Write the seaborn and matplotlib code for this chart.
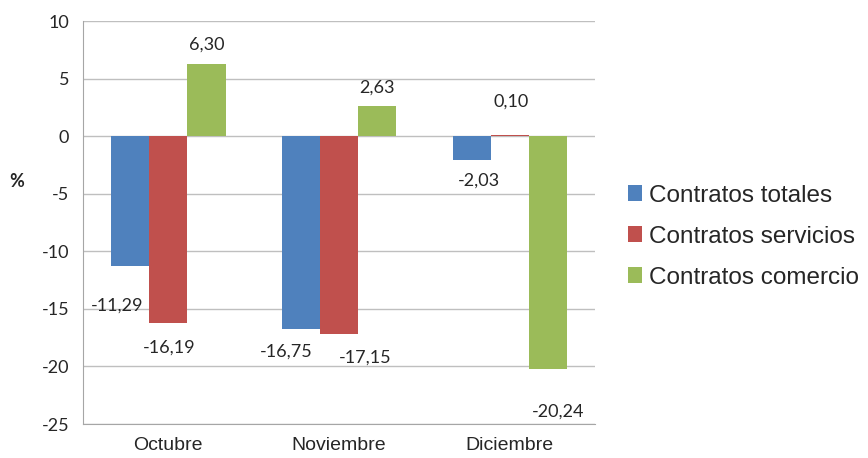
import numpy as np
import pandas as pd
import matplotlib
matplotlib.use("Agg")
import matplotlib.pyplot as plt
import seaborn as sns

months = ["Octubre", "Noviembre", "Diciembre"]
series = ["Contratos totales", "Contratos servicios", "Contratos comercio"]
totales = [-11.29, -16.75, -2.03]
servicios = [-16.19, -17.15, 0.10]
comercio = [6.30, 2.63, -20.24]
colors = ["#4F81BD", "#C0504D", "#9BBB59"]

# label offsets in pixels from the bar end (to mimic Excel's placement)
offsets = {
    "Contratos totales": [(-13, -39), (-15, -23), (7, -21)],
    "Contratos servicios": [(1, -25), (26, -24), (1, 33)],
    "Contratos comercio": [(0, 19), (0, 18), (10, -42)],
}

df = pd.DataFrame({
    "mes": months * 3,
    "serie": [s for s in series for _ in months],
    "valor": totales + servicios + comercio,
})

sns.set_style("white")
plt.rcParams["font.family"] = ["Lato", "DejaVu Sans"]
plt.rcParams["axes.unicode_minus"] = False

fig = plt.figure(figsize=(8.68, 4.58), dpi=100)
ax = fig.add_axes([0.0956, 0.0742, 0.59, 0.8798])

sns.barplot(data=df, x="mes", y="valor", hue="serie", order=months,
            hue_order=series, palette=colors, width=0.67, saturation=1,
            edgecolor="none", linewidth=0, ax=ax)

ax.set_ylim(-25, 10)
ax.set_yticks(np.arange(-25, 11, 5))
ax.set_xlim(-0.5, 2.5)
ax.yaxis.grid(True, color="#BFBFBF", linewidth=1)
ax.set_axisbelow(True)
for s in ["top", "right"]:
    ax.spines[s].set_visible(False)
ax.spines["left"].set_color("#A6A6A6")
ax.spines["bottom"].set_color("#A6A6A6")
ax.tick_params(axis="y", length=5, color="#A6A6A6", labelsize=13, labelcolor="#262626", pad=5)
ax.tick_params(axis="x", length=0, labelsize=14, labelcolor="#262626", pad=9)
for t in ax.get_xticklabels():
    t.set_fontfamily("Liberation Sans")
ax.set_xlabel("")
ax.set_ylabel("%", rotation=0, fontsize=13, fontweight="bold", color="#262626")
ax.yaxis.set_label_coords(-0.13, 0.58)

for cont, name in zip(ax.containers, series):
    for bar, (dx, dy) in zip(cont, offsets[name]):
        v = bar.get_height()
        x = bar.get_x() + bar.get_width() / 2
        ax.annotate(f"{v:.2f}".replace(".", ","), (x, v), xytext=(dx, dy),
                    textcoords="offset pixels", ha="center", va="center",
                    fontsize=13, color="#262626", annotation_clip=False)

handles, labels = ax.get_legend_handles_labels()
ax.legend(handles, labels, loc="center left", bbox_to_anchor=(1.045, 0.465),
          frameon=False, prop={"family": "Liberation Sans", "size": 17.5},
          handlelength=0.6, handleheight=0.6, handletextpad=0.25, labelspacing=0.78,
          borderaxespad=0)

fig.savefig("out.png", dpi=100)
